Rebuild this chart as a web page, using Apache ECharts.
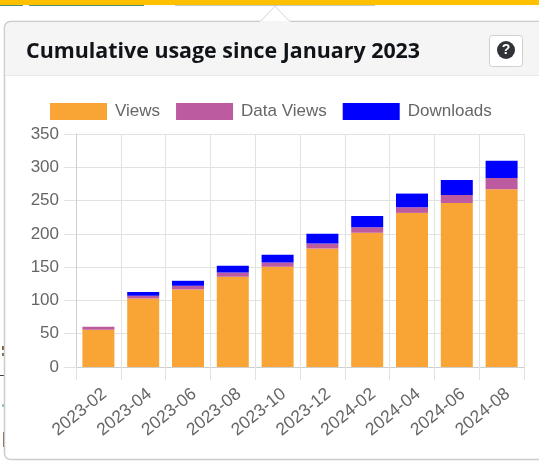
<!DOCTYPE html>
<html>
<head>
<meta charset="utf-8">
<style>
html,body{margin:0;padding:0;background:#fff;overflow:hidden}
#chart{width:539px;height:462px}
</style>
<script src="https://cdn.jsdelivr.net/npm/echarts@6/dist/echarts.min.js"></script>
</head>
<body>
<div id="chart"></div>
<script>
const months = ['2023-02','2023-04','2023-06','2023-08','2023-10','2023-12','2024-02','2024-04','2024-06','2024-08'];
const views = [56,103,116.5,135.5,150.5,178,201.5,231.5,246.5,267];
const dataViews = [4.5,4,5.5,6.5,6.5,7.5,8.5,8.5,12,17];
const downloads = [0,5.5,7.5,10,11.5,14.5,17,20.5,22.5,26];
const yTicks = {min:0,max:350,interval:50};

const chart = echarts.init(document.getElementById('chart'), null, {renderer:'canvas'});
const gridLine = '#e2e2e2';
const barSeries = (name, values, color) => ({
  name, type:'bar', stack:'usage', data:values, barWidth:32,
  itemStyle:{color}, emphasis:{disabled:true}, z:3
});
const flat = (x, y, width, height, fill) => ({
  type:'rect', z:-10, silent:true, shape:{x, y, width, height}, style:{fill}
});

chart.setOption({
  animation:false,
  backgroundColor:'#fff',
  textStyle:{fontFamily:'"Liberation Sans",Arial,sans-serif'},
  graphic:[
    // page strip behind the popover
    flat(0,0,539,5,'#ffc000'),
    flat(0,5,23,1,'#4f8f7c'),
    flat(29,5,115,1,'#4f8f7c'),
    flat(175,5,200,1,'#c9c9c9'),
    // page content peeking out at the left edge
    flat(2,346,2,4,'#7a5a30'),
    flat(2,353,2,3,'#7a6a50'),
    flat(0,375,4,1,'#404040'),
    flat(2,404,2,3,'#8fc4c0'),
    flat(3,432,1,15,'#8a5a30'),
    // popover body, header band and pointer
    {type:'rect',z:-9,silent:true,shape:{x:4.5,y:21.5,width:560,height:438,r:6},style:{fill:'#fff',stroke:'#cccccc',lineWidth:1.5}},
    {type:'rect',z:-8,silent:true,shape:{x:5.5,y:22.5,width:534,height:53,r:[6,0,0,0]},style:{fill:'#f5f5f5'}},
    {type:'line',z:-8,silent:true,shape:{x1:5,y1:75.5,x2:539,y2:75.5},style:{stroke:'#e8e8e8',lineWidth:1}},
    {type:'polygon',z:-7,silent:true,shape:{points:[[260,22],[275,6],[290,22]]},style:{fill:'#fff',stroke:'#d4d4d4',lineWidth:1}},
    {type:'rect',z:-6,silent:true,shape:{x:260,y:21,width:30,height:3},style:{fill:'#f5f5f5'}},
    // help button
    {type:'rect',z:-6,silent:true,shape:{x:489.5,y:35.5,width:33,height:31,r:3},style:{fill:'#fff',stroke:'#d0d0d0',lineWidth:1}},
    {type:'circle',z:-5,silent:true,shape:{cx:506,cy:50,r:9},style:{fill:'#303338'}},
    {type:'text',z:-4,silent:true,style:{x:506,y:50,text:'?',fill:'#fff',align:'center',verticalAlign:'middle',font:'bold 14px "Liberation Sans"'}}
  ],
  title:{
    text:'Cumulative usage since January 2023',left:26,top:41,padding:0,
    textStyle:{fontFamily:'"Open Sans",sans-serif',fontSize:21.4,fontWeight:'bold',color:'#101418'}
  },
  legend:{
    left:50,top:103,padding:0,itemWidth:57,itemHeight:17,itemGap:16,
    icon:'rect',selectedMode:false,
    textStyle:{color:'#666',fontSize:17,padding:[0,0,0,3]},
    data:['Views','Data Views','Downloads']
  },
  grid:{left:76,right:15,top:134,bottom:95,containLabel:false},
  xAxis:{
    type:'category',data:months,
    axisLine:{lineStyle:{color:'#cfcfcf'}},
    axisTick:{show:true,length:13,interval:0,lineStyle:{color:gridLine}},
    axisLabel:{interval:0,rotate:39,color:'#666',fontSize:17.5,margin:30,padding:[0,-8,0,0]},
    splitLine:{show:true,interval:0,lineStyle:{color:gridLine}}
  },
  yAxis:{
    type:'value',...yTicks,
    axisLine:{show:true,lineStyle:{color:'#cfcfcf'}},
    axisTick:{show:true,length:12,lineStyle:{color:gridLine}},
    axisLabel:{color:'#666',fontSize:17,margin:17},
    splitLine:{lineStyle:{color:gridLine}}
  },
  series:[
    barSeries('Views',views,'#f9a535'),
    barSeries('Data Views',dataViews,'#bd5ba1'),
    barSeries('Downloads',downloads,'#0000ff')
  ]
});
</script>
</body>
</html>
